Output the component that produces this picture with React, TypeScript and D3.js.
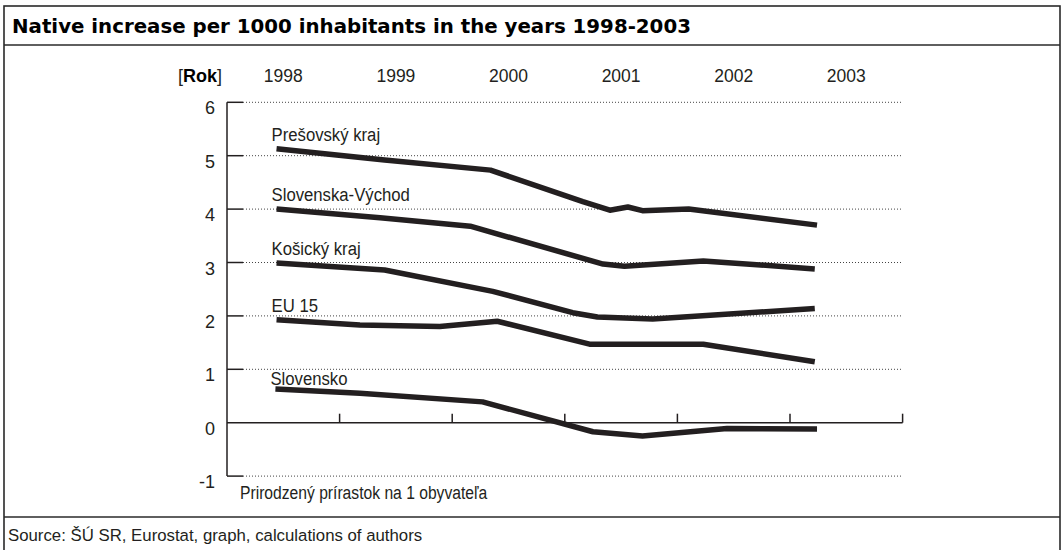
import { useEffect, useRef } from 'react';
import * as d3 from 'd3';

const title = 'Native increase per 1000 inhabitants in the years 1998-2003';
const source = 'Source: ŠÚ SR, Eurostat, graph, calculations of authors';
const yAxisTitle = 'Prirodzený prírastok na 1 obyvateľa';
const years = [1998, 1999, 2000, 2001, 2002, 2003];
const yTicks = [-1, 0, 1, 2, 3, 4, 5, 6];

// x = position on the time axis in years (the lines bend between year marks)
const presovX = [1997.94, 1998.9, 1999.84, 2000.66, 2000.9, 2001.06, 2001.19, 2001.6, 2002.74];
const presovY = [5.13, 4.92, 4.73, 4.14, 3.98, 4.04, 3.97, 4.0, 3.7];

const vychodX = [1997.94, 1998.86, 1999.66, 2000.84, 2001.03, 2001.73, 2002.72];
const vychodY = [4.0, 3.84, 3.68, 2.97, 2.93, 3.03, 2.88];

const kosiceX = [1997.94, 1998.9, 1999.86, 2000.57, 2000.79, 2001.28, 2002.72];
const kosiceY = [2.99, 2.86, 2.46, 2.06, 1.98, 1.94, 2.14];

const eu15X = [1997.94, 1998.68, 1999.39, 1999.9, 2000.72, 2001.73, 2002.72];
const eu15Y = [1.93, 1.83, 1.8, 1.9, 1.47, 1.47, 1.14];

const slovenskoX = [1997.93, 1998.68, 1999.77, 2000.75, 2001.19, 2001.94, 2002.74];
const slovenskoY = [0.63, 0.55, 0.39, -0.17, -0.25, -0.11, -0.12];

const seriesNames = ['Prešovský kraj', 'Slovenska-Východ', 'Košický kraj', 'EU 15', 'Slovensko'];
const seriesX = [presovX, vychodX, kosiceX, eu15X, slovenskoX];
const seriesY = [presovY, vychodY, kosiceY, eu15Y, slovenskoY];

const W = 1064;
const H = 550;
const INK = '#231f20';
const SANS = '"Liberation Sans", Arial, sans-serif';

export default function App() {
  const ref = useRef<SVGSVGElement | null>(null);

  useEffect(() => {
    if (!ref.current) return;
    const svg = d3.select(ref.current);
    svg.selectAll('*').remove();

    const x = d3.scaleLinear().domain([1997.5, 2003.5]).range([227, 902.6]);
    const y = d3.scaleLinear().domain([-1, 6]).range([476.1, 102.3]);
    const x0 = x(1997.5);
    const x1 = x(2003.5);

    // condensed look: squeeze a regular face horizontally
    const narrowText = (
      parent: d3.Selection<SVGGElement, unknown, null, undefined>,
      tx: number,
      ty: number,
      s: string,
      size: number,
      squeeze: number
    ) =>
      parent
        .append('text')
        .attr('transform', `translate(${tx},${ty}) scale(${squeeze},1)`)
        .text(s)
        .style('font-family', SANS)
        .style('font-size', `${size}px`)
        .style('fill', INK);

    // frame, title bar and source bar
    svg
      .append('rect')
      .attr('x', 4)
      .attr('y', 6)
      .attr('width', 1056)
      .attr('height', 560)
      .attr('fill', 'white')
      .attr('stroke', '#2a2a2a')
      .attr('stroke-width', 1.6);
    svg.append('line').attr('x1', 4).attr('x2', 1060).attr('y1', 45).attr('y2', 45).attr('stroke', '#2a2a2a').attr('stroke-width', 1.6);
    svg.append('line').attr('x1', 4).attr('x2', 1060).attr('y1', 517).attr('y2', 517).attr('stroke', '#2a2a2a').attr('stroke-width', 1.6);

    svg
      .append('text')
      .attr('x', 12)
      .attr('y', 33)
      .text(title)
      .style('font-family', '"DejaVu Sans", sans-serif')
      .style('font-weight', 'bold')
      .style('font-size', '19.8px')
      .style('fill', '#000');

    svg
      .append('text')
      .attr('x', 8)
      .attr('y', 541)
      .text(source)
      .style('font-family', SANS)
      .style('font-size', '16.8px')
      .style('fill', INK);

    const g = svg.append('g');

    // dotted grid lines with a short solid tick at the axis
    yTicks
      .filter((t) => t !== 0)
      .forEach((t) => {
        g.append('line')
          .attr('x1', x0 + 16)
          .attr('x2', x1)
          .attr('y1', y(t))
          .attr('y2', y(t))
          .attr('stroke', '#444')
          .attr('stroke-width', 1)
          .attr('stroke-dasharray', '1,2');
        g.append('line')
          .attr('x1', x0)
          .attr('x2', x0 + 16)
          .attr('y1', y(t))
          .attr('y2', y(t))
          .attr('stroke', INK)
          .attr('stroke-width', 1.5);
      });

    // zero line with year separators
    g.append('line')
      .attr('x1', x0)
      .attr('x2', x1)
      .attr('y1', y(0))
      .attr('y2', y(0))
      .attr('stroke', INK)
      .attr('stroke-width', 1.5);
    years.forEach((yr) => {
      g.append('line')
        .attr('x1', x(yr + 0.5))
        .attr('x2', x(yr + 0.5))
        .attr('y1', y(0))
        .attr('y2', y(0) - 9)
        .attr('stroke', INK)
        .attr('stroke-width', 1.5);
    });

    // y axis
    g.append('line')
      .attr('x1', x0)
      .attr('x2', x0)
      .attr('y1', y(6))
      .attr('y2', y(-1))
      .attr('stroke', INK)
      .attr('stroke-width', 1.5);

    // y tick labels
    g.selectAll('.ylab')
      .data(yTicks)
      .enter()
      .append('text')
      .attr('class', 'ylab')
      .attr('x', 215)
      .attr('y', (d) => y(d) + 12)
      .attr('text-anchor', 'end')
      .text((d) => String(d))
      .style('font-family', SANS)
      .style('font-size', '18px')
      .style('fill', INK);

    // year labels across the top
    g.selectAll('.xlab')
      .data(years)
      .enter()
      .append('text')
      .attr('class', 'xlab')
      .attr('x', (d) => x(d))
      .attr('y', 82)
      .attr('text-anchor', 'middle')
      .text((d) => String(d))
      .style('font-family', SANS)
      .style('font-size', '17.5px')
      .style('fill', INK);

    const rok = g
      .append('text')
      .attr('x', 222)
      .attr('y', 82)
      .attr('text-anchor', 'end')
      .style('font-family', SANS)
      .style('font-size', '18px')
      .style('fill', INK);
    rok.append('tspan').text('[');
    rok.append('tspan').style('font-weight', 'bold').style('fill', '#000').text('Rok');
    rok.append('tspan').text(']');

    narrowText(g, 240, 499, yAxisTitle, 18, 0.87);

    // series lines
    const line = d3
      .line<[number, number]>()
      .x((d) => x(d[0]))
      .y((d) => y(d[1]));

    seriesNames.forEach((name, i) => {
      const pts = seriesX[i].map((v, j) => [v, seriesY[i][j]] as [number, number]);
      g.append('path')
        .datum(pts)
        .attr('fill', 'none')
        .attr('stroke', INK)
        .attr('stroke-width', 5.5)
        .attr('stroke-linejoin', 'round')
        .attr('stroke-linecap', 'butt')
        .attr('d', line);

      narrowText(g, x(pts[0][0]) - 5, y(pts[0][1]) - (name === 'Slovensko' ? 4 : 8), name, 19, 0.88);
    });
  }, []);

  return (
    <svg
      ref={ref}
      width={W}
      height={H}
      style={{ position: 'absolute', left: 0, top: 0, background: 'white' }}
    />
  );
}
